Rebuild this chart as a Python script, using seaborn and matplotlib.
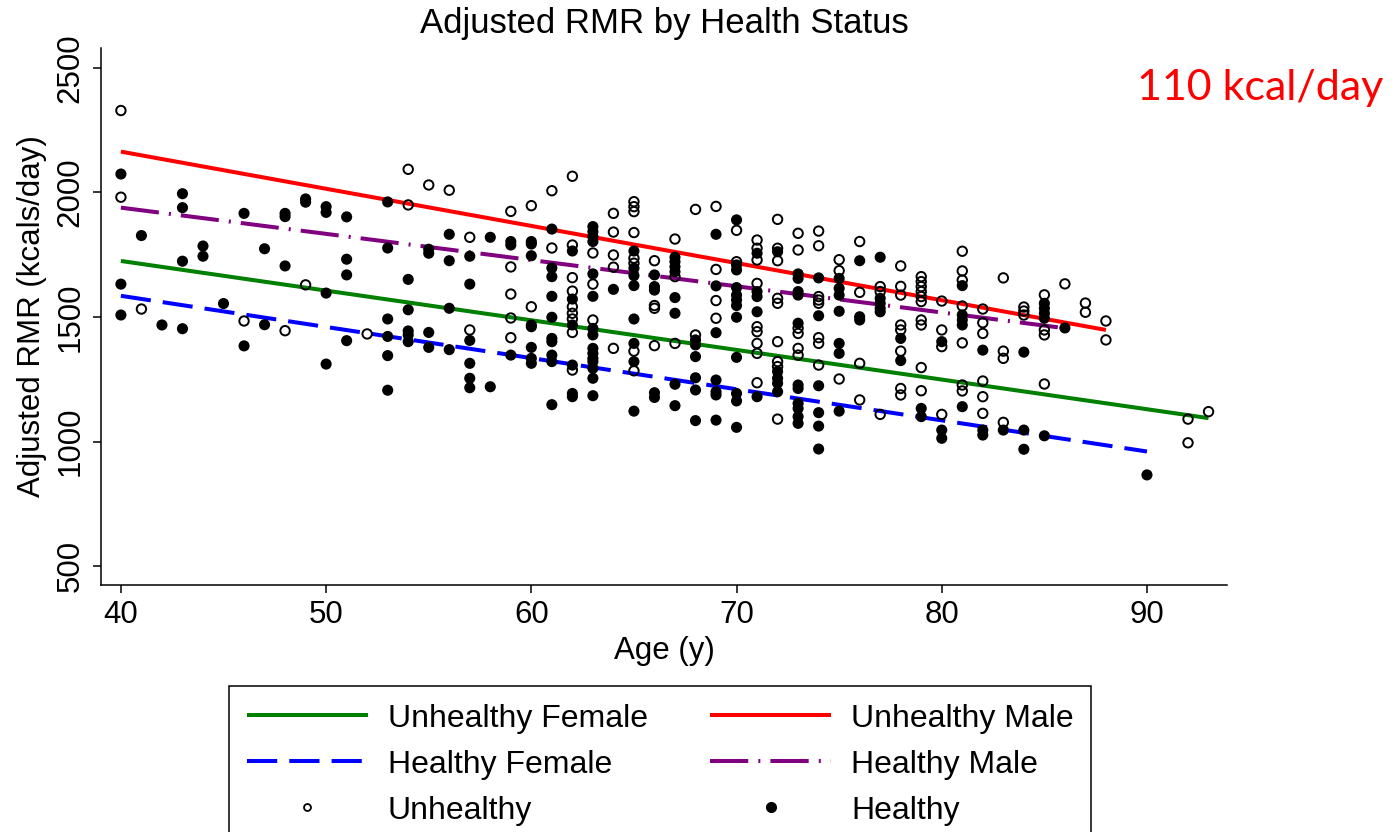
import matplotlib
matplotlib.use("Agg")
import matplotlib.pyplot as plt
import seaborn as sns
from matplotlib.lines import Line2D

# ---------------- data ----------------
unhealthy_age = (
    [40, 40] + [41] + [46] + [48] + [49] + [52] + [54, 54] + [55] + [56] + [57, 57]
    + [59] * 5 + [60] * 2 + [61] * 2 + [62] * 9 + [63] * 3 + [64] * 5 + [65] * 8
    + [66] * 4 + [67] * 3 + [68] * 2 + [69] * 4 + [70] * 2 + [71] * 9 + [72] * 9
    + [73] * 6 + [74] * 8 + [75] * 3 + [76] * 4 + [77] * 3 + [78] * 8 + [79] * 10
    + [80] * 4 + [81] * 7 + [82] * 6 + [83] * 4 + [84] * 3 + [85] * 4 + [86]
    + [87] * 2 + [88] * 2 + [92] * 2 + [93]
)
unhealthy_rmr = (
    [2329, 1981] + [1532] + [1484] + [1445] + [1629] + [1432] + [2093, 1950]
    + [2030] + [2009] + [1820, 1448]
    + [1924, 1701, 1592, 1496, 1417]
    + [1947, 1541]
    + [2007, 1777]
    + [2065, 1789, 1658, 1604, 1541, 1515, 1492, 1438, 1287]
    + [1757, 1632, 1488]
    + [1916, 1841, 1749, 1700, 1374]
    + [1963, 1943, 1923, 1839, 1736, 1716, 1363, 1284]
    + [1726, 1546, 1535, 1385]
    + [1813, 1662, 1394]
    + [1932, 1428]
    + [1944, 1691, 1566, 1495]
    + [1848, 1722]
    + [1809, 1776, 1729, 1635, 1461, 1441, 1394, 1354, 1236]
    + [1892, 1776, 1726, 1575, 1555, 1401, 1321, 1301, 1090]
    + [1836, 1769, 1455, 1434, 1374, 1347]
    + [1845, 1786, 1582, 1568, 1555, 1417, 1394, 1307]
    + [1730, 1686, 1251]
    + [1803, 1599, 1314, 1167]
    + [1622, 1602, 1109]
    + [1705, 1623, 1588, 1468, 1448, 1363, 1213, 1187]
    + [1662, 1642, 1622, 1602, 1582, 1562, 1488, 1468, 1297, 1204]
    + [1564, 1448, 1381, 1109]
    + [1764, 1685, 1648, 1544, 1396, 1227, 1203]
    + [1532, 1477, 1434, 1243, 1180, 1113]
    + [1657, 1363, 1334, 1077]
    + [1540, 1524, 1508]
    + [1589, 1448, 1428, 1231]
    + [1633]
    + [1556, 1519]
    + [1484, 1408]
    + [1090, 995]
    + [1120]
)

healthy_age = (
    [40] * 3 + [41] + [42] + [43] * 4 + [44] * 2 + [45] + [46] * 2 + [47] * 2
    + [48] * 3 + [49] * 2 + [50] * 4 + [51] * 4 + [53] * 6 + [54] * 5 + [55] * 4
    + [56] * 4 + [57] * 6 + [58] * 2 + [59] * 3 + [60] * 8 + [61] * 10 + [62] * 6
    + [63] * 15 + [64] + [65] * 8 + [66] * 5 + [67] * 8 + [68] * 6 + [69] * 7
    + [70] * 12 + [71] * 5 + [72] * 5 + [73] * 11 + [74] * 6 + [75] * 7 + [76] * 3
    + [77] * 5 + [78] * 2 + [79] * 2 + [80] * 3 + [81] * 5 + [82] * 3 + [83]
    + [84] * 3 + [85] * 5 + [86] + [90]
)
healthy_rmr = (
    [2074, 1632, 1508] + [1827] + [1468] + [1995, 1939, 1724, 1453] + [1785, 1744]
    + [1554] + [1916, 1384] + [1774, 1469] + [1916, 1903, 1705] + [1974, 1961]
    + [1943, 1920, 1596, 1311] + [1902, 1732, 1669, 1405]
    + [1962, 1777, 1492, 1422, 1345, 1206]
    + [1651, 1529, 1444, 1428, 1401]
    + [1772, 1756, 1438, 1378]
    + [1832, 1726, 1535, 1369]
    + [1744, 1632, 1406, 1314, 1254, 1216]
    + [1820, 1220]
    + [1803, 1789, 1347]
    + [1803, 1793, 1746, 1468, 1461, 1378, 1334, 1314]
    + [1853, 1697, 1662, 1583, 1499, 1414, 1401, 1347, 1321, 1148]
    + [1765, 1572, 1468, 1307, 1193, 1180]
    + [1863, 1843, 1823, 1803, 1673, 1583, 1454, 1428, 1374, 1354, 1334, 1321,
       1294, 1254, 1184]
    + [1611]
    + [1765, 1696, 1666, 1626, 1492, 1394, 1321, 1122]
    + [1669, 1622, 1608, 1196, 1177]
    + [1740, 1722, 1702, 1682, 1578, 1515, 1230, 1144]
    + [1408, 1388, 1341, 1256, 1207, 1084]
    + [1832, 1625, 1437, 1247, 1200, 1187, 1086]
    + [1890, 1709, 1689, 1618, 1588, 1568, 1546, 1499, 1338, 1193, 1163, 1057]
    + [1756, 1602, 1582, 1521, 1180]
    + [1762, 1281, 1254, 1234, 1200]
    + [1673, 1655, 1602, 1588, 1475, 1227, 1213, 1153, 1133, 1100, 1073]
    + [1657, 1505, 1224, 1116, 1062, 970]
    + [1655, 1615, 1588, 1523, 1394, 1354, 1122]
    + [1726, 1501, 1488]
    + [1740, 1575, 1555, 1535, 1521]
    + [1414, 1325]
    + [1133, 1100]
    + [1401, 1046, 1013]
    + [1626, 1508, 1488, 1468, 1140]
    + [1367, 1046, 1026]
    + [1046]
    + [1359, 1046, 969]
    + [1555, 1535, 1515, 1495, 1023]
    + [1456]
    + [866]
)

# fitted lines (end points)
uf_age, uf_rmr = [40, 93], [1725, 1094]   # Unhealthy Female
hf_age, hf_rmr = [40, 90], [1585, 960]    # Healthy Female
um_age, um_rmr = [40, 88], [2164, 1448]   # Unhealthy Male
hm_age, hm_rmr = [40, 86], [1939, 1455]   # Healthy Male

y_ticks = [500, 1000, 1500, 2000, 2500]
x_ticks = [40, 50, 60, 70, 80, 90]

# ---------------- style ----------------
sns.set_theme(style="white")
plt.rcParams["font.family"] = ["Liberation Sans", "DejaVu Sans"]
for key in ["text.color", "axes.labelcolor", "xtick.color", "ytick.color",
            "axes.edgecolor"]:
    plt.rcParams[key] = "black"

W, H = 1398, 832
fig = plt.figure(figsize=(W / 100, H / 100), dpi=100)
ax = fig.add_axes([101 / W, 1 - 585 / H, (1227 - 101) / W, (585 - 48) / H])

GREEN, BLUE, RED, PURPLE = "#008000", "#0000FF", "#FF0000", "#800080"
LW = 2.9
DASH_BLUE = (7.5, 3.0)
DASH_PURPLE = (9.5, 2.5, 0.5, 2.5)

fits = [
    (uf_age, uf_rmr, GREEN, None),
    (hf_age, hf_rmr, BLUE, DASH_BLUE),
    (um_age, um_rmr, RED, None),
    (hm_age, hm_rmr, PURPLE, DASH_PURPLE),
]
for xs, ys, col, dash in fits:
    sns.lineplot(x=xs, y=ys, color=col, linewidth=LW, ax=ax,
                 estimator=None, sort=False, legend=False)
    ln = ax.lines[-1]
    ln.set_solid_capstyle("butt")
    ln.set_dash_capstyle("butt")
    if dash is not None:
        ln.set_dashes(dash)

sns.scatterplot(x=unhealthy_age, y=unhealthy_rmr, ax=ax, marker="o", s=46,
                legend=False, zorder=3)
c = ax.collections[-1]
c.set_facecolor("none")
c.set_edgecolor("black")
c.set_linewidth(1.4)

sns.scatterplot(x=healthy_age, y=healthy_rmr, ax=ax, marker="o", s=64,
                color="black", edgecolor="none", legend=False, zorder=3)

ax.set_xlim(39.03, 93.9)
ax.set_ylim(424, 2580)
ax.set_xticks(x_ticks)
ax.set_yticks(y_ticks)
ax.set_xticklabels([str(t) for t in x_ticks], fontsize=22.5)
ax.set_yticklabels([str(t) for t in y_ticks], fontsize=22.5, rotation=90,
                   va="center")
ax.tick_params(axis="both", which="major", direction="out", length=6,
               width=1.1, color="black", labelcolor="black", left=True,
               bottom=True)
ax.tick_params(axis="x", pad=5)
ax.tick_params(axis="y", pad=5)
for side in ["top", "right"]:
    ax.spines[side].set_visible(False)
for side in ["left", "bottom"]:
    ax.spines[side].set_color("black")
    ax.spines[side].set_linewidth(1.1)
ax.grid(False)
ax.set_xlabel("Age (y)", fontsize=22.5, labelpad=4, color="black")
ax.set_ylabel("Adjusted RMR (kcals/day)", fontsize=22.5, labelpad=6,
              color="black")

fig.text(664 / W, 1 - 24 / H, "Adjusted RMR by Health Status", fontsize=25,
         ha="center", va="center", color="black")
fig.text(1383 / W, 1 - 88 / H, "110 kcal/day", fontsize=31, color="red",
         ha="right", va="center", family=["Lato", "DejaVu Sans"])

handles = [
    Line2D([], [], color=GREEN, lw=LW, solid_capstyle="butt"),
    Line2D([], [], color=BLUE, lw=LW, dashes=DASH_BLUE, dash_capstyle="butt"),
    Line2D([], [], ls="none", marker="o", markersize=5, markerfacecolor="none",
           markeredgecolor="black", markeredgewidth=1.3),
    Line2D([], [], color=RED, lw=LW, solid_capstyle="butt"),
    Line2D([], [], color=PURPLE, lw=LW, dashes=DASH_PURPLE, dash_capstyle="butt"),
    Line2D([], [], ls="none", marker="o", markersize=7, markerfacecolor="black",
           markeredgecolor="black"),
]
labels = ["Unhealthy Female", "Healthy Female", "Unhealthy",
          "Unhealthy Male", "Healthy Male", "Healthy"]
leg = fig.legend(handles, labels, ncol=2, loc="upper left",
                 bbox_to_anchor=(229 / W, 1 - 686 / H), borderaxespad=0,
                 fontsize=23, frameon=True, fancybox=False, shadow=False,
                 handlelength=3.8, handletextpad=0.62, columnspacing=1.95,
                 labelspacing=0.5, borderpad=0.55)
for t in leg.get_texts():
    t.set_color("black")
frame = leg.get_frame()
frame.set_edgecolor("black")
frame.set_linewidth(1.1)
frame.set_facecolor("white")
frame.set_alpha(1)

fig.savefig("out.png", dpi=100)
